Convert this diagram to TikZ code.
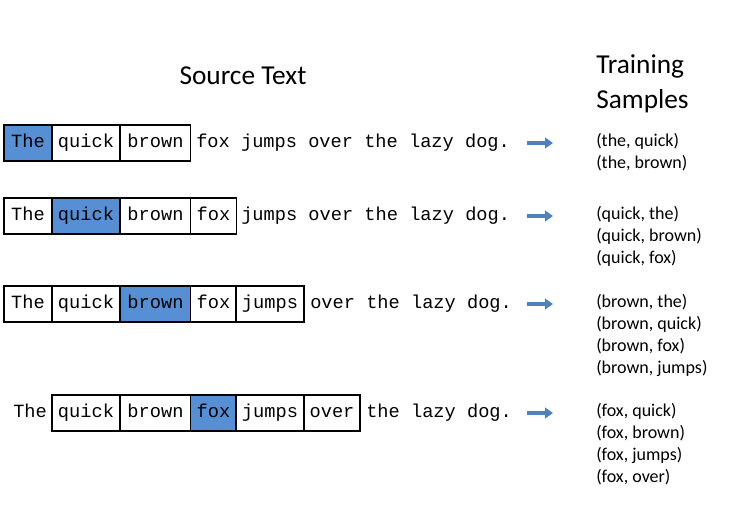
\documentclass[tikz,border=0pt]{standalone}
\usepackage{fontspec}
\setmainfont{Carlito}
\setmonofont{Liberation Mono}
\usetikzlibrary{arrows.meta}
\definecolor{wordblue}{RGB}{86,143,211}
\definecolor{arrowblue}{RGB}{79,129,189}
\tikzset{
  word/.style={draw,thick,minimum height=27pt,inner sep=0pt,text height=9pt,text depth=2.5pt,font=\ttfamily\fontsize{14}{15}\selectfont},
  center/.style={word,fill=wordblue},
  rest/.style={anchor=base west,inner sep=0pt,font=\ttfamily\fontsize{14}{15}\selectfont},
  pairs/.style={anchor=north west,inner sep=0pt,align=left,font=\fontsize{13.5}{16.5}\selectfont},
  pointer/.style={-{Triangle[length=6pt,width=8pt]},line width=2.8pt,arrowblue}
}
\begin{document}
\begin{tikzpicture}[x=0.75pt,y=-0.75pt]
  \useasboundingbox (0,0) rectangle (756,505);

  % headers
  \node[font=\fontsize{20.5}{24}\selectfont] (src) at (243,76) {Source Text};
  \node[anchor=west,align=left,inner sep=0pt,font=\fontsize{20.5}{26}\selectfont] (trn) at (596,84) {Training\\Samples};

  % row 1
  \node[center,minimum width=36pt] (a1) at (28,143) {The};
  \node[word,minimum width=51pt] (b1) at (86,143) {quick};
  \node[word,minimum width=53pt] (c1) at (155.5,143) {brown};
  \node[rest] (r1) at (196,147.5) {fox jumps over the lazy dog.};
  \coordinate (s1) at (527,143); \coordinate (e1) at (553,143);
  \draw[pointer] (s1) -- (e1);
  \node[pairs] (p1) at (596,133) {(the, quick)\\(the, brown)};

  % row 2
  \node[word,minimum width=36pt] (a2) at (28,216) {The};
  \node[center,minimum width=51pt] (b2) at (86,216) {quick};
  \node[word,minimum width=53pt] (c2) at (155.5,216) {brown};
  \node[word,minimum width=34pt] (d2) at (213.5,216) {fox};
  \node[rest] (r2) at (241,220.5) {jumps over the lazy dog.};
  \coordinate (s2) at (527,216); \coordinate (e2) at (553,216);
  \draw[pointer] (s2) -- (e2);
  \node[pairs] (p2) at (596,206) {(quick, the)\\(quick, brown)\\(quick, fox)};

  % row 3
  \node[word,minimum width=36pt] (a3) at (28,304) {The};
  \node[word,minimum width=51pt] (b3) at (86,304) {quick};
  \node[center,minimum width=53pt] (c3) at (155.5,304) {brown};
  \node[word,minimum width=34pt] (d3) at (213.5,304) {fox};
  \node[word,minimum width=51pt] (e3) at (270,304) {jumps};
  \node[rest] (r3) at (310,308.5) {over the lazy dog.};
  \coordinate (s3) at (527,304); \coordinate (t3) at (553,304);
  \draw[pointer] (s3) -- (t3);
  \node[pairs] (p3) at (596,294) {(brown, the)\\(brown, quick)\\(brown, fox)\\(brown, jumps)};

  % row 4
  \node[rest] (a4) at (13,417.5) {The};
  \node[word,minimum width=51pt] (b4) at (86,413) {quick};
  \node[word,minimum width=53pt] (c4) at (155.5,413) {brown};
  \node[center,minimum width=34pt] (d4) at (213.5,413) {fox};
  \node[word,minimum width=51pt] (e4) at (270,413) {jumps};
  \node[word,minimum width=42pt] (f4) at (332,413) {over};
  \node[rest] (r4) at (366,417.5) {the lazy dog.};
  \coordinate (s4) at (527,413); \coordinate (t4) at (553,413);
  \draw[pointer] (s4) -- (t4);
  \node[pairs] (p4) at (596,403) {(fox, quick)\\(fox, brown)\\(fox, jumps)\\(fox, over)};
\end{tikzpicture}
\end{document}
